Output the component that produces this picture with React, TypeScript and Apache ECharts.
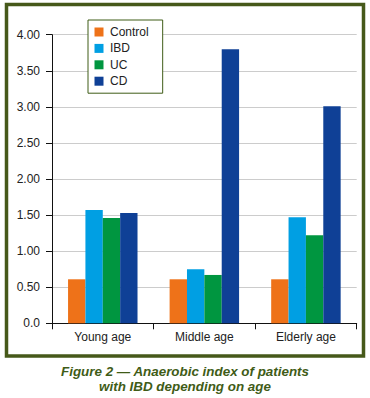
import React, { useEffect, useRef } from "react";
import * as echarts from "echarts";

const categories = ["Young age", "Middle age", "Elderly age"];
const seriesNames = ["Control", "IBD", "UC", "CD"];
const controlValues = [0.61, 0.61, 0.61];
const ibdValues = [1.57, 0.75, 1.47];
const ucValues = [1.46, 0.67, 1.22];
const cdValues = [1.53, 3.8, 3.01];
const colors = ["#ee7219", "#009fe3", "#009640", "#0f4096"];
const captionLines = ["Figure 2 — Anaerobic index of patients", "with IBD depending on age"];

export default function App() {
  const ref = useRef<HTMLDivElement>(null);
  useEffect(() => {
    if (!ref.current) return;
    const chart = echarts.init(ref.current, null, { renderer: "svg" });
    const values = [controlValues, ibdValues, ucValues, cdValues];
    const font = "'Liberation Sans', Arial, sans-serif";
    chart.setOption({
      animation: false,
      backgroundColor: "#ffffff",
      textStyle: { fontFamily: font },
      grid: { left: 52, right: 13.3, top: 34.7, bottom: 74.7 },
      legend: {
        orient: "vertical",
        left: 88,
        top: 20,
        data: seriesNames,
        icon: "rect",
        itemWidth: 9,
        itemHeight: 9,
        itemGap: 4.4,
        padding: [6, 14, 6, 6.5],
        borderColor: "#3f5c17",
        borderWidth: 1,
        backgroundColor: "#ffffff",
        textStyle: { fontSize: 12, color: "#222", lineHeight: 12, fontFamily: font, padding: [0, 0, 0, 1.5] },
      },
      xAxis: {
        type: "category",
        data: categories,
        axisLine: { lineStyle: { color: "#111", width: 1 } },
        axisTick: { show: true, length: 6, lineStyle: { color: "#111" } },
        axisLabel: { fontSize: 12, color: "#222", margin: 8, fontFamily: font },
      },
      yAxis: {
        type: "value",
        min: 0,
        max: 4,
        interval: 0.5,
        axisLine: { show: true, lineStyle: { color: "#111", width: 1 } },
        axisTick: { show: true, length: 6, lineStyle: { color: "#111" } },
        axisLabel: {
          fontSize: 12,
          color: "#222",
          margin: 12,
          fontFamily: font,
          formatter: (v: number) => (v === 0 ? "0.0" : v.toFixed(2)),
        },
        splitLine: { lineStyle: { color: "#cccccc", width: 1 } },
      },
      series: seriesNames.map((name, i) => ({
        name,
        type: "bar",
        data: values[i],
        itemStyle: { color: colors[i] },
        barGap: "0%",
        barCategoryGap: "31.6%",
      })),
      graphic: [
        {
          type: "rect",
          shape: { x: 6.5, y: 4.5, width: 357, height: 351.5 },
          style: { fill: "none", stroke: "#46591a", lineWidth: 3.5 },
          silent: true,
          z: 100,
        },
        ...captionLines.map((t, i) => ({
          type: "text",
          x: 185,
          y: 371.7 + i * 15,
          style: {
            text: t,
            fill: "#3f5c17",
            font: `italic bold 13.4px ${font}`,
            textAlign: "center",
            textVerticalAlign: "middle",
          },
        })),
      ],
    });
    return () => chart.dispose();
  }, []);
  return (
    <div
      ref={ref}
      style={{ position: "fixed", left: 0, top: 0, width: 370, height: 398 }}
    />
  );
}
